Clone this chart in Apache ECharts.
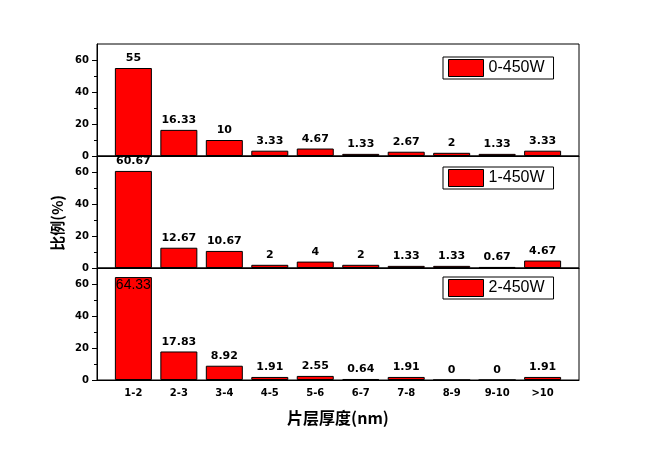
<!DOCTYPE html>
<html><head><meta charset="utf-8">
<script src="https://cdn.jsdelivr.net/npm/echarts@6/dist/echarts.min.js"></script>
<style>html,body{margin:0;padding:0;background:#fff}#c{width:645px;height:450px}</style>
</head><body><div id="c"></div>
<script>
var categories = ['1-2','2-3','3-4','4-5','5-6','6-7','7-8','8-9','9-10','>10'];
var seriesNames = ['0-450W','1-450W','2-450W'];
var values0 = [55, 16.33, 10, 3.33, 4.67, 1.33, 2.67, 2, 1.33, 3.33];
var values1 = [60.67, 12.67, 10.67, 2, 4, 2, 1.33, 1.33, 0.67, 4.67];
var values2 = [64.33, 17.83, 8.92, 1.91, 2.55, 0.64, 1.91, 0, 0, 1.91];
var yMajorTicks = [0, 20, 40, 60];
var yMinorTicks = [10, 30, 50];
var yTitle = '比例(%)';
var xTitle = '片层厚度(nm)';

var allValues = [values0, values1, values2];
var gridTops = [44, 156, 268];
var legendTops = [57, 167, 277];
var chart = echarts.init(document.getElementById('c'));
var grids = [], xAxes = [], yAxes = [], series = [], legends = [];
var boldFont = 'DejaVu Sans';
for (var g = 0; g < 3; g++) {
  grids.push({left: 97, width: 482, top: gridTops[g], height: 112, show: true, borderColor: '#000', borderWidth: 1, backgroundColor: 'transparent'});
  var isBottom = g === 2;
  xAxes.push({
    type: 'value', gridIndex: g, min: 0.2, max: 10.8,
    axisLine: {show: true, onZero: false, lineStyle: {color: '#000', width: 1}},
    axisTick: {show: false}, splitLine: {show: false},
    axisLabel: isBottom ? {show: true, customValues: categories.map(function(c, i){return i + 1;}),
      formatter: function(v){ return categories[Math.round(v) - 1] || ''; },
      color: '#000', fontFamily: boldFont, fontWeight: 'bold', fontSize: 10, margin: 8} : {show: false}
  });
  yAxes.push({
    type: 'value', gridIndex: g, min: 0, max: 70, position: 'left',
    axisLine: {show: true, lineStyle: {color: '#000', width: 1}},
    axisTick: {show: true, customValues: yMajorTicks, length: 5, lineStyle: {color: '#000'}},
    axisLabel: {show: true, customValues: yMajorTicks, color: '#000', fontFamily: boldFont, fontWeight: 'bold', fontSize: 10, margin: 8},
    splitLine: {show: false}
  });
  yAxes.push({
    type: 'value', gridIndex: g, min: 0, max: 70, position: 'left', offset: 0,
    axisLine: {show: false},
    axisTick: {show: true, customValues: yMinorTicks, length: 3, lineStyle: {color: '#000'}},
    axisLabel: {show: false}, splitLine: {show: false}
  });
  var vals = allValues[g];
  var data = vals.map(function(v, i){
    var item = {value: [i + 1, v]};
    if (v > 62) {
      item.label = {position: 'insideTop', distance: 1, fontWeight: 'normal', fontFamily: 'Liberation Sans', fontSize: 14};
    }
    return item;
  });
  series.push({
    type: 'bar', name: seriesNames[g], xAxisIndex: g, yAxisIndex: g * 2,
    barWidth: 37, data: data,
    itemStyle: {color: '#ff0000', borderColor: '#000', borderWidth: 1},
    label: {show: true, position: 'top', distance: 4, color: '#000', fontFamily: boldFont, fontWeight: 'bold', fontSize: 11,
      formatter: (function(vs){ return function(p){ return String(vs[p.dataIndex]); }; })(vals)},
    animation: false
  });
  legends.push({
    data: [seriesNames[g]], left: 443, top: legendTops[g], orient: 'horizontal',
    borderColor: '#000', borderWidth: 1, padding: [2, 9, 2, 5],
    itemWidth: 35, itemHeight: 17, icon: 'rect',
    itemStyle: {color: '#ff0000', borderColor: '#000', borderWidth: 1},
    textStyle: {color: '#000', fontFamily: 'Liberation Sans', fontSize: 16},
    selectedMode: false
  });
}
chart.setOption({
  animation: false,
  backgroundColor: '#fff',
  grid: grids, xAxis: xAxes, yAxis: yAxes, series: series, legend: legends,
  graphic: [
    {type: 'text', left: 50, top: 195, rotation: Math.PI / 2, style: {text: yTitle, fill: '#000', font: 'bold 15px "Noto Sans CJK SC"'}},
    {type: 'text', x: 338, y: 418, style: {text: xTitle, fill: '#000', font: 'bold 16px "Noto Sans CJK SC"', align: 'center', verticalAlign: 'middle'}}
  ]
});
</script>
</body></html>
